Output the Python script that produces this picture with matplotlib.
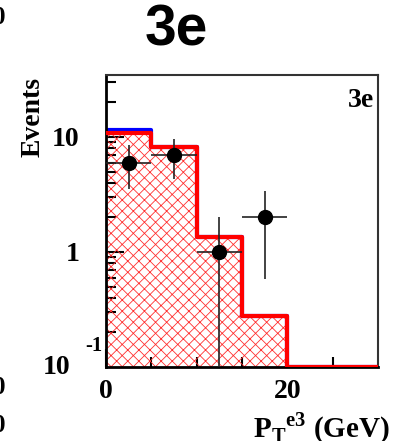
import numpy as np
import matplotlib
matplotlib.use("Agg")
import matplotlib.pyplot as plt
from matplotlib.ticker import FixedLocator, NullFormatter

# P_T of the third electron, 3e channel
bin_edges = [0, 5, 10, 15, 20, 25, 30]
signal = [10.8, 8.2, 1.35, 0.28, 0.0, 0.0]      # red hatched component
total = [11.5, 8.2, 1.35, 0.28, 0.0, 0.0]       # blue: full stack
data_x = [2.5, 7.5, 12.5, 17.5]
data_y = [6, 7, 1, 2]
x_halfwidth = 2.5

ymin, ymax = 0.1, 34.6

plt.rcParams['hatch.linewidth'] = 0.6
plt.rcParams['mathtext.fontset'] = 'custom'
plt.rcParams['mathtext.rm'] = 'Liberation Serif:bold'
serif = ['Liberation Serif', 'DejaVu Serif']

fig = plt.figure(figsize=(3.99, 4.41), dpi=100)
W, H = 399.0, 441.0
ax = fig.add_axes([106 / W, 1 - 367 / H, (378 - 106) / W, (367 - 75) / H])

edges = np.array(bin_edges, dtype=float)
# empty bins sit on the bottom of the log axis
sig = np.maximum(np.array(signal), ymin * 1.01)
tot = np.maximum(np.array(total), ymin * 1.01)

# step outlines need the last value repeated
sig_s = np.append(sig, sig[-1])
tot_s = np.append(tot, tot[-1])

ax.step(edges, tot_s, where='post', color='#0000ff', lw=3, zorder=2)
ax.fill_between(edges, ymin * 0.7, sig_s, step='post', facecolor='none',
                edgecolor='#ff3030', hatch='xxx', lw=0, zorder=2)
ax.step(edges, sig_s, where='post', color='#ff0000', lw=3, zorder=3)

# data with sqrt(N) errors
dy = np.sqrt(np.array(data_y, dtype=float))
low = np.array(data_y) - np.maximum(np.array(data_y) - dy, 1e-3)
ax.errorbar(data_x, data_y, xerr=x_halfwidth, yerr=[low, dy], fmt='o',
            color='black', ecolor='#222222', elinewidth=1.2, capsize=0,
            markersize=10, zorder=5)

ax.set_yscale('log')
ax.set_xlim(0, 30)
ax.set_ylim(ymin, ymax)

for side in ['left', 'bottom']:
    ax.spines[side].set_linewidth(2)
for side in ['top', 'right']:
    ax.spines[side].set_linewidth(1.5)
    ax.spines[side].set_color('#333333')

ax.xaxis.set_major_locator(FixedLocator([0, 20]))
ax.xaxis.set_minor_locator(FixedLocator([5, 10, 15, 25]))
ax.set_xticklabels(['0', '20'])
minors = [m * 10.0 ** e for e in (-1, 0, 1) for m in range(2, 10)]
ax.yaxis.set_major_locator(FixedLocator([1, 10]))
ax.yaxis.set_minor_locator(FixedLocator(minors))
ax.yaxis.set_minor_formatter(NullFormatter())
ax.set_yticklabels(['1', '10'])

ax.tick_params(which='both', direction='in', top=False, right=False,
               width=1.5, color='black')
ax.tick_params(which='major', length=13)
ax.tick_params(which='minor', length=7)
ax.tick_params(axis='y', which='major', pad=19)
ax.tick_params(axis='x', which='major', pad=9)
for lab in ax.get_xticklabels() + ax.get_yticklabels():
    lab.set_family(serif)
    lab.set_fontweight('bold')
    lab.set_fontsize(20)

# 10^-1 label written ROOT-style
fig.text(57 / W, 1 - 367 / H, '10', family=serif, fontweight='bold',
         fontsize=20, ha='center', va='center')
fig.text(94 / W, 1 - 346 / H, '-1', family=serif, fontweight='bold',
         fontsize=15, ha='center', va='center')

ax.text(0.985, 0.955, '3e', transform=ax.transAxes, family=serif,
        fontweight='bold', fontsize=20, ha='right', va='top')

fig.text(33 / W, 1 - 77 / H, 'Events', family=serif, fontweight='bold',
         fontsize=20, rotation=90, ha='center', va='top')
fig.text(390 / W, 1 - 428 / H, r'P$_{\mathrm{T}}$$^{\mathrm{e3}}$ (GeV)',
         family=serif, fontweight='bold', fontsize=21, ha='right',
         va='center')

fig.text(176 / W, 1 - 31 / H, '3e', family=['Liberation Sans', 'DejaVu Sans'],
         fontweight='bold', fontsize=41, ha='center', va='center')

# edges of the neighbouring panel
for yy in (18, 387, 425):
    fig.text(5 / W, 1 - yy / H, '0', family=serif, fontweight='bold',
             fontsize=18, ha='right', va='center')

fig.savefig('out.png', dpi=100)
